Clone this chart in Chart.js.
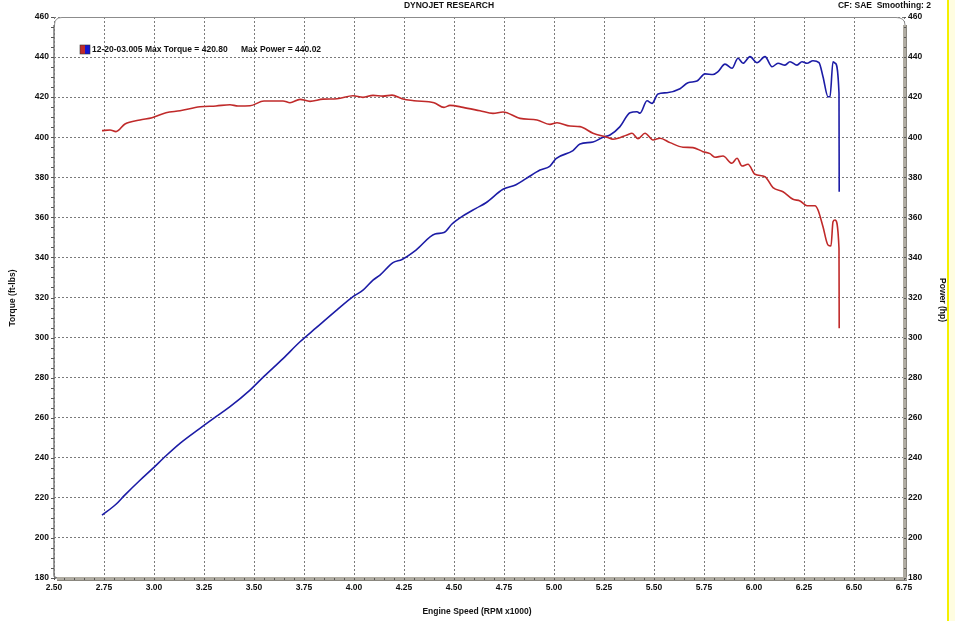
<!DOCTYPE html>
<html>
<head>
<meta charset="utf-8">
<script src="https://cdn.jsdelivr.net/npm/chart.js@4.4.1/dist/chart.umd.min.js"></script>
<style>
  html, body { margin: 0; padding: 0; background: #fff; }
  #wrap { position: relative; width: 955px; height: 621px; }
</style>
</head>
<body>
<div id="wrap"><canvas id="c" width="955" height="621"></canvas></div>
<script>
  "use strict";

  // Engine speed (RPM x1000) and torque (ft-lbs)
  const torqueRpm = [
    2.74, 2.78, 2.81, 2.855, 2.93, 2.99, 3.06, 3.13, 3.23, 3.31, 3.38, 3.42,
    3.48, 3.55, 3.645, 3.68, 3.73, 3.78, 3.845, 3.915, 3.995, 4.045, 4.095,
    4.145, 4.19, 4.24, 4.3, 4.4, 4.45, 4.48, 4.545, 4.63, 4.695, 4.745, 4.83,
    4.915, 4.98, 5.015, 5.08, 5.13, 5.195, 5.265, 5.295, 5.365, 5.39, 5.42,
    5.455, 5.495, 5.53, 5.58, 5.645, 5.695, 5.745, 5.78, 5.805, 5.845, 5.89,
    5.915, 5.94, 5.97, 6.005, 6.055, 6.095, 6.145, 6.195, 6.23, 6.265, 6.305,
    6.32, 6.345, 6.37, 6.385, 6.395, 6.405, 6.425, 6.426,
  ];
  const torque = [
    403.3, 403.6, 402.8, 406.6, 408.6, 409.7, 412.2, 413.2, 415.2, 415.6,
    416.2, 415.6, 415.7, 418.1, 418.1, 417.2, 418.9, 417.9, 419.0, 419.2,
    420.7, 419.9, 420.9, 420.5, 421.0, 419.2, 418.2, 417.2, 414.9, 415.9,
    414.9, 413.2, 411.9, 412.6, 409.4, 408.6, 406.4, 407.2, 405.6, 405.3,
    402.0, 400.0, 399.0, 401.1, 402.0, 399.3, 402.0, 398.6, 399.5, 397.3,
    395.0, 394.8, 392.8, 391.8, 390.0, 390.6, 387.0, 389.5, 385.6, 386.5,
    381.5, 380.3, 374.8, 372.8, 369.0, 368.2, 365.8, 365.8, 363.7, 355.3,
    346.2, 345.7, 357.8, 358.7, 344.5, 304.6,
  ];

  // Engine speed (RPM x1000) and power (hp)
  const powerRpm = [
    2.74, 2.81, 2.855, 2.93, 2.99, 3.06, 3.13, 3.23, 3.31, 3.38, 3.48, 3.55,
    3.645, 3.73, 3.81, 3.915, 3.995, 4.045, 4.095, 4.13, 4.195, 4.24, 4.31,
    4.405, 4.45, 4.49, 4.545, 4.61, 4.66, 4.745, 4.81, 4.86, 4.93, 4.98, 5.01,
    5.095, 5.13, 5.195, 5.245, 5.28, 5.33, 5.38, 5.415, 5.43, 5.465, 5.49,
    5.52, 5.565, 5.63, 5.67, 5.715, 5.755, 5.795, 5.82, 5.855, 5.89, 5.92,
    5.945, 5.98, 6.015, 6.055, 6.09, 6.12, 6.155, 6.18, 6.215, 6.24, 6.265,
    6.295, 6.325, 6.345, 6.37, 6.38, 6.395, 6.405, 6.425, 6.426,
  ];
  const power = [
    211.4, 216.8, 221.5, 228.8, 234.3, 241.0, 247.2, 254.7, 260.5, 265.5,
    273.8, 280.6, 289.5, 297.9, 304.8, 313.8, 320.4, 323.7, 328.7, 331.2,
    337.4, 339.0, 343.7, 351.7, 352.4, 356.7, 360.7, 364.5, 367.3, 374.0,
    376.3, 379.3, 383.6, 385.6, 389.3, 393.3, 396.6, 397.6, 400.0, 401.1,
    405.3, 412.2, 412.7, 412.0, 418.2, 416.9, 421.6, 422.2, 424.2, 427.2,
    428.0, 431.6, 431.3, 432.7, 436.5, 434.4, 439.4, 436.9, 440.2, 437.2,
    440.2, 435.2, 436.9, 436.0, 437.7, 436.0, 437.7, 436.9, 438.2, 437.2,
    430.2, 420.2, 420.2, 437.7, 437.0, 421.9, 372.8,
  ];

  const xTicks = [2.5, 2.75, 3.0, 3.25, 3.5, 3.75, 4.0, 4.25, 4.5, 4.75, 5.0,
    5.25, 5.5, 5.75, 6.0, 6.25, 6.5, 6.75];
  const yTicks = [180, 200, 220, 240, 260, 280, 300, 320, 340, 360, 380, 400,
    420, 440, 460];

  const titleText = "DYNOJET RESEARCH";
  const cornerText = "CF: SAE  Smoothing: 2";
  const runLabel = "12-20-03.005 Max Torque = 420.80";
  const powerLabel = "Max Power = 440.02";

  const FONT = "'Liberation Sans', Arial, sans-serif";
  const RED = "#c02a2a";
  const BLUE = "#1c1ca6";
  const GRID = "#7a7a7a";

  function pts(xs, ys) {
    return xs.map((x, i) => ({ x: x, y: ys[i] }));
  }

  // frame, minor ticks, titles and the small legend, drawn on top of the chart
  const dynoDecor = {
    id: "dynoDecor",
    afterDraw(chart) {
      const ctx = chart.ctx;
      const { left, right, top, bottom } = chart.chartArea;
      const sx = chart.scales.x;
      const sy = chart.scales.y;
      ctx.save();

      // top border with rounded corners
      ctx.strokeStyle = "#8c8c8c";
      ctx.lineWidth = 1;
      ctx.beginPath();
      ctx.moveTo(left + 0.5, top + 8);
      ctx.quadraticCurveTo(left + 0.5, top + 0.5, left + 8, top + 0.5);
      ctx.lineTo(right - 8, top + 0.5);
      ctx.quadraticCurveTo(right + 1, top + 0.5, right + 1, top + 8);
      ctx.stroke();

      // left axis line
      ctx.strokeStyle = "#7a7a7a";
      ctx.lineWidth = 1.5;
      ctx.beginPath();
      ctx.moveTo(left, top + 8);
      ctx.lineTo(left, bottom - 3);
      ctx.quadraticCurveTo(left, bottom, left + 4, bottom);
      ctx.stroke();

      // right shaded bar
      ctx.fillStyle = "#b0aca2";
      ctx.fillRect(right - 1, top + 8, 4, bottom - top - 6);
      ctx.fillStyle = "#8a877f";
      ctx.fillRect(right + 2, top + 8, 1, bottom - top - 6);

      // bottom shaded bar
      ctx.fillStyle = "#b0aca2";
      ctx.fillRect(left + 3, bottom - 1, right - left, 3);
      ctx.fillStyle = "#8a877f";
      ctx.fillRect(left + 3, bottom + 2, right - left, 1);

      // minor ticks
      ctx.strokeStyle = "#555";
      ctx.lineWidth = 1;
      ctx.beginPath();
      for (let v = 180; v <= 460; v += 5) {
        const py = Math.round(sy.getPixelForValue(v)) + 0.5;
        ctx.moveTo(left - 3, py);
        ctx.lineTo(left, py);
        ctx.moveTo(right, py);
        ctx.lineTo(right + 2, py);
      }
      for (let i = 0; i <= 85; i++) {
        const px = Math.round(sx.getPixelForValue(2.5 + i * 0.05)) + 0.5;
        ctx.moveTo(px, bottom);
        ctx.lineTo(px, bottom + 2);
      }
      ctx.stroke();

      // headings
      ctx.fillStyle = "#111";
      ctx.font = "bold 8.5px " + FONT;
      ctx.textBaseline = "middle";
      ctx.textAlign = "center";
      ctx.fillText(titleText, 449, 6);
      ctx.textAlign = "right";
      ctx.fillText(cornerText, 931, 6);

      // axis titles
      ctx.textAlign = "center";
      ctx.fillText("Engine Speed (RPM x1000)", 477, 612);
      ctx.save();
      ctx.translate(13, 298);
      ctx.rotate(-Math.PI / 2);
      ctx.fillText("Torque (ft-lbs)", 0, 0);
      ctx.restore();
      ctx.save();
      ctx.translate(942, 300);
      ctx.rotate(Math.PI / 2);
      ctx.fillText("Power (hp)", 0, 0);
      ctx.restore();

      // legend swatch and run info
      ctx.fillStyle = RED;
      ctx.fillRect(80, 45, 5, 9);
      ctx.fillStyle = "#1515d0";
      ctx.fillRect(85, 45, 5, 9);
      ctx.strokeStyle = "#333";
      ctx.lineWidth = 0.6;
      ctx.strokeRect(80, 45, 10, 9);
      ctx.fillStyle = "#111";
      ctx.textAlign = "left";
      ctx.fillText(runLabel, 92, 50);
      ctx.fillText(powerLabel, 241, 50);

      // yellow edge
      ctx.fillStyle = "#f4f000";
      ctx.fillRect(947, 0, 2, 621);
      ctx.fillStyle = "#fffde0";
      ctx.fillRect(949, 0, 6, 621);

      ctx.restore();
    },
  };

  const tickFont = { family: FONT, size: 8.5, weight: "bold" };

  new Chart(document.getElementById("c"), {
    type: "line",
    data: {
      datasets: [
        {
          label: "Torque",
          data: pts(torqueRpm, torque),
          yAxisID: "y",
          borderColor: RED,
          borderWidth: 1.6,
          pointRadius: 0,
          cubicInterpolationMode: "monotone",
          fill: false,
        },
        {
          label: "Power",
          data: pts(powerRpm, power),
          yAxisID: "y1",
          borderColor: BLUE,
          borderWidth: 1.6,
          pointRadius: 0,
          cubicInterpolationMode: "monotone",
          fill: false,
        },
      ],
    },
    options: {
      responsive: false,
      animation: false,
      devicePixelRatio: 1,
      layout: { padding: { top: 17, left: 0, right: 0, bottom: 0 } },
      plugins: {
        legend: { display: false },
        tooltip: { enabled: false },
      },
      scales: {
        x: {
          type: "linear",
          min: 2.5,
          max: 6.75,
          afterFit(s) { s.height = 43; },
          afterBuildTicks(s) { s.ticks = xTicks.map((v) => ({ value: v })); },
          border: { display: false, dash: [2, 2] },
          grid: { color: GRID, lineWidth: 1, drawTicks: false },
          ticks: {
            color: "#111",
            font: tickFont,
            padding: 5,
            maxRotation: 0,
            autoSkip: false,
            callback: (v) => v.toFixed(2),
          },
        },
        y: {
          type: "linear",
          position: "left",
          min: 180,
          max: 460,
          afterFit(s) { s.width = 54; },
          afterBuildTicks(s) { s.ticks = yTicks.map((v) => ({ value: v })); },
          border: { display: false, dash: [2, 2] },
          grid: { color: GRID, lineWidth: 1, drawTicks: false },
          ticks: { color: "#111", font: tickFont, padding: 5 },
        },
        y1: {
          type: "linear",
          position: "right",
          min: 180,
          max: 460,
          afterFit(s) { s.width = 51; },
          afterBuildTicks(s) { s.ticks = yTicks.map((v) => ({ value: v })); },
          border: { display: false },
          grid: { display: false, drawTicks: false },
          ticks: { color: "#111", font: tickFont, padding: 4 },
        },
      },
    },
    plugins: [dynoDecor],
  });
</script>
</body>
</html>
